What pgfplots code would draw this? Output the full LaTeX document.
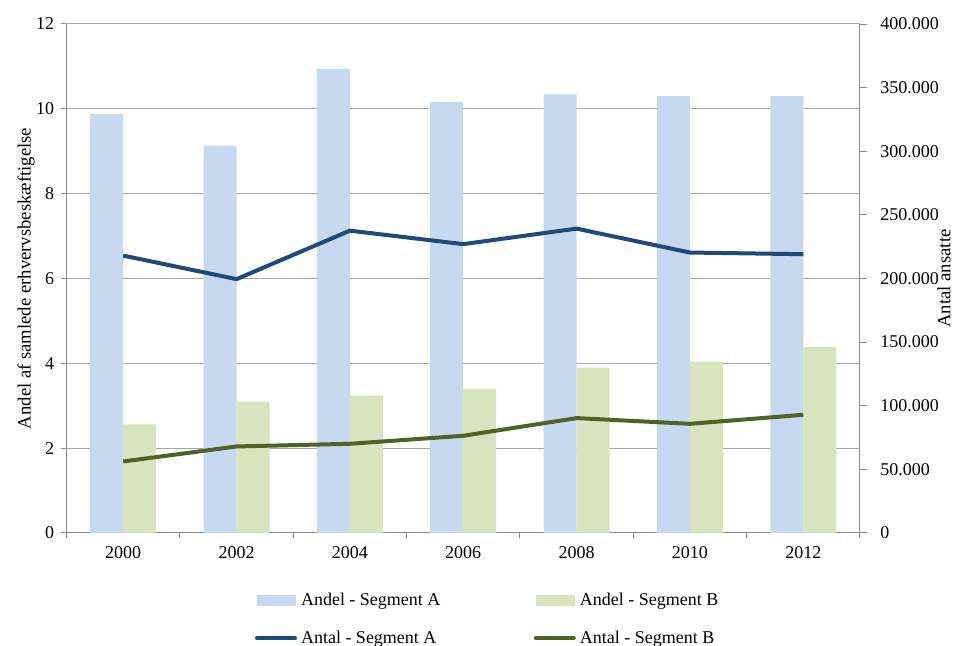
\documentclass[border=0pt]{standalone}
\usepackage{pgfplots}
\pgfplotsset{compat=1.18}
\usepackage{pgfplotstable}
\usepackage{fontspec}
\setmainfont{Liberation Serif}

\definecolor{barA}{HTML}{C6D9F1}
\definecolor{barB}{HTML}{D7E4BD}
\definecolor{lineA}{HTML}{1F497D}
\definecolor{lineB}{HTML}{4F6228}
\definecolor{gridgray}{HTML}{A6A6A6}
\definecolor{axisgray}{HTML}{8C8C8C}

% andel i procent (venstre akse), antal ansatte (hoejre akse)
\pgfplotstableread{
x year andelA andelB antalA antalB
0 2000 9.88 2.56 218000 56200
1 2002 9.13 3.10 199500 68000
2 2004 10.94 3.24 237600 70100
3 2006 10.16 3.40 227000 76400
4 2008 10.34 3.90 239200 90300
5 2010 10.30 4.04 220400 85800
6 2012 10.30 4.38 219100 92900
}\data

\pgfplotsset{
  common/.style={
    at={(0,0)}, anchor=south west,
    scale only axis, width=595.1pt, height=381.75pt,
    xmin=-0.5, xmax=6.5,
    enlargelimits=false,
    axis line style={draw=axisgray, line width=0.75pt},
    tick style={draw=axisgray, line width=0.75pt},
    tick align=outside,
    major tick length=3.75pt, minor tick length=3.75pt,
  },
}

\begin{document}
\begin{tikzpicture}[font=\fontsize{13.5}{16}\selectfont]
\useasboundingbox (-49.875pt,-84.75pt) rectangle (670.875pt,399.75pt);

\begin{axis}[
  common,
  ymin=0, ymax=12,
  ybar=0pt, bar width=24.75pt,
  axis x line*=bottom, axis y line*=left,
  xtick={0,...,6},
  xticklabels={2000,2002,2004,2006,2008,2010,2012},
  major x tick style={draw=none},
  minor xtick={-0.5,0.5,...,6.5},
  ytick={0,2,...,12},
  yticklabels={0,2,4,6,8,10,12},
  ymajorgrids, grid style={gridgray, line width=0.75pt},
  yticklabel style={xshift=-2pt},
  xticklabel style={yshift=-3pt},
  ylabel={Andel af samlede erhvervsbeskæftigelse},
  ylabel style={at={(axis description cs:-0.051,0.5)}, anchor=center, rotate=0,
    font=\fontsize{14}{16}\selectfont},
]
\addplot[fill=barA, draw=none] table[x=x, y=andelA]{\data};
\addplot[fill=barB, draw=none] table[x=x, y=andelB]{\data};
\end{axis}

\begin{axis}[
  common,
  ymin=0, ymax=400000,
  axis x line=none, axis y line*=right,
  major tick length=5.25pt,
  ytick={0,50000,...,400000},
  yticklabels={0,50.000,100.000,150.000,200.000,250.000,300.000,350.000,400.000},
  scaled y ticks=false,
  yticklabel style={xshift=6.5pt},
  ylabel={Antal ansatte},
  ylabel style={at={(axis description cs:1.106,0.5)}, anchor=center, rotate=0,
    font=\fontsize{14}{16}\selectfont},
  legend columns=2,
  legend style={draw=none, fill=none, inner sep=0pt, outer sep=0pt,
    at={(axis description cs:0.2376,-0.118)}, anchor=north west,
    nodes={inner sep=0pt},
    /tikz/every odd column/.append style={column sep=3pt},
    /tikz/every even column/.append style={column sep=70pt},
    row sep=17.5pt},
  legend cell align=left,
]
\addlegendimage{legend image code/.code={\fill[barA] (0pt,-3.75pt) rectangle (28.5pt,3.75pt);}}
\addlegendentry{Andel - Segment A}
\addlegendimage{legend image code/.code={\fill[barB] (0pt,-3.75pt) rectangle (28.5pt,3.75pt);}}
\addlegendentry{Andel - Segment B}
\addplot[lineA, line width=3pt, mark=none, line join=round,
  legend image code/.code={\draw[lineA, line width=3pt, line cap=round] (0pt,0pt) -- (28.5pt,0pt);}]
  table[x=x, y=antalA]{\data};
\addlegendentry{Antal - Segment A}
\addplot[lineB, line width=3pt, mark=none, line join=round,
  legend image code/.code={\draw[lineB, line width=3pt, line cap=round] (0pt,0pt) -- (28.5pt,0pt);}]
  table[x=x, y=antalB]{\data};
\addlegendentry{Antal - Segment B}
\end{axis}
\end{tikzpicture}
\end{document}
